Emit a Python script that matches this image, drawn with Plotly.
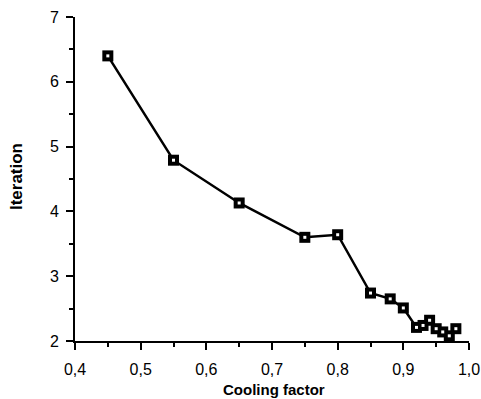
import plotly.graph_objects as go

cooling_factor = [0.45, 0.55, 0.65, 0.75, 0.80, 0.85, 0.88, 0.90, 0.92, 0.93, 0.94, 0.95, 0.96, 0.97, 0.98]
iteration = [6.40, 4.79, 4.13, 3.60, 3.64, 2.74, 2.65, 2.51, 2.21, 2.24, 2.32, 2.19, 2.14, 2.08, 2.19]
x_ticks = [0.4, 0.5, 0.6, 0.7, 0.8, 0.9, 1.0]
y_ticks = [2, 3, 4, 5, 6, 7]
x_title = "Cooling factor"
y_title = "Iteration"

fig = go.Figure()
fig.add_trace(go.Scatter(
    x=cooling_factor, y=iteration, mode="lines+markers",
    line=dict(color="black", width=2.5),
    marker=dict(symbol="square", size=11, color="black", line=dict(width=0)),
    cliponaxis=False, showlegend=False, hoverinfo="skip"))
fig.add_trace(go.Scatter(
    x=cooling_factor, y=iteration, mode="markers",
    marker=dict(symbol="square", size=3, color="white", line=dict(width=0)),
    cliponaxis=False, showlegend=False))

font = "Liberation Sans, Arial, sans-serif"
fig.update_layout(
    width=481, height=399,
    margin=dict(l=75, r=12, t=17, b=58),
    paper_bgcolor="white", plot_bgcolor="white",
    separators=",.",
    font=dict(family=font, size=16, color="black"),
    xaxis=dict(
        range=[0.4, 1.0], tickvals=x_ticks, tickformat=".1f", automargin=False,
        showgrid=False, zeroline=False, ticklabeloverflow="allow",
        showline=True, linecolor="black", linewidth=2,
        ticks="outside", ticklen=7, tickwidth=2, tickcolor="black", ticklabelstandoff=6,
        minor=dict(dtick=0.05, tick0=0.4, ticks="outside", ticklen=4, tickwidth=2, tickcolor="black", showgrid=False),
    ),
    yaxis=dict(
        range=[2, 7], tickvals=y_ticks, automargin=False,
        showgrid=False, zeroline=False, ticklabeloverflow="allow",
        showline=True, linecolor="black", linewidth=2,
        ticks="outside", ticklen=7, tickwidth=2, tickcolor="black", ticklabelstandoff=4,
        minor=dict(dtick=0.5, tick0=2, ticks="outside", ticklen=4, tickwidth=2, tickcolor="black", showgrid=False),
    ),
    annotations=[
        dict(text="<b>" + x_title + "</b>", xref="paper", yref="paper", x=0.506, y=-0.151,
             showarrow=False, xanchor="center", yanchor="middle", font=dict(size=15)),
        dict(text="<b>" + y_title + "</b>", xref="paper", yref="paper", x=-0.1497, y=0.506,
             showarrow=False, xanchor="center", yanchor="middle", textangle=-90, font=dict(size=17)),
    ],
)
fig.write_html("out.html", config={"displayModeBar": False},
               post_script="document.body.style.margin='0';document.body.style.overflow='hidden';")
